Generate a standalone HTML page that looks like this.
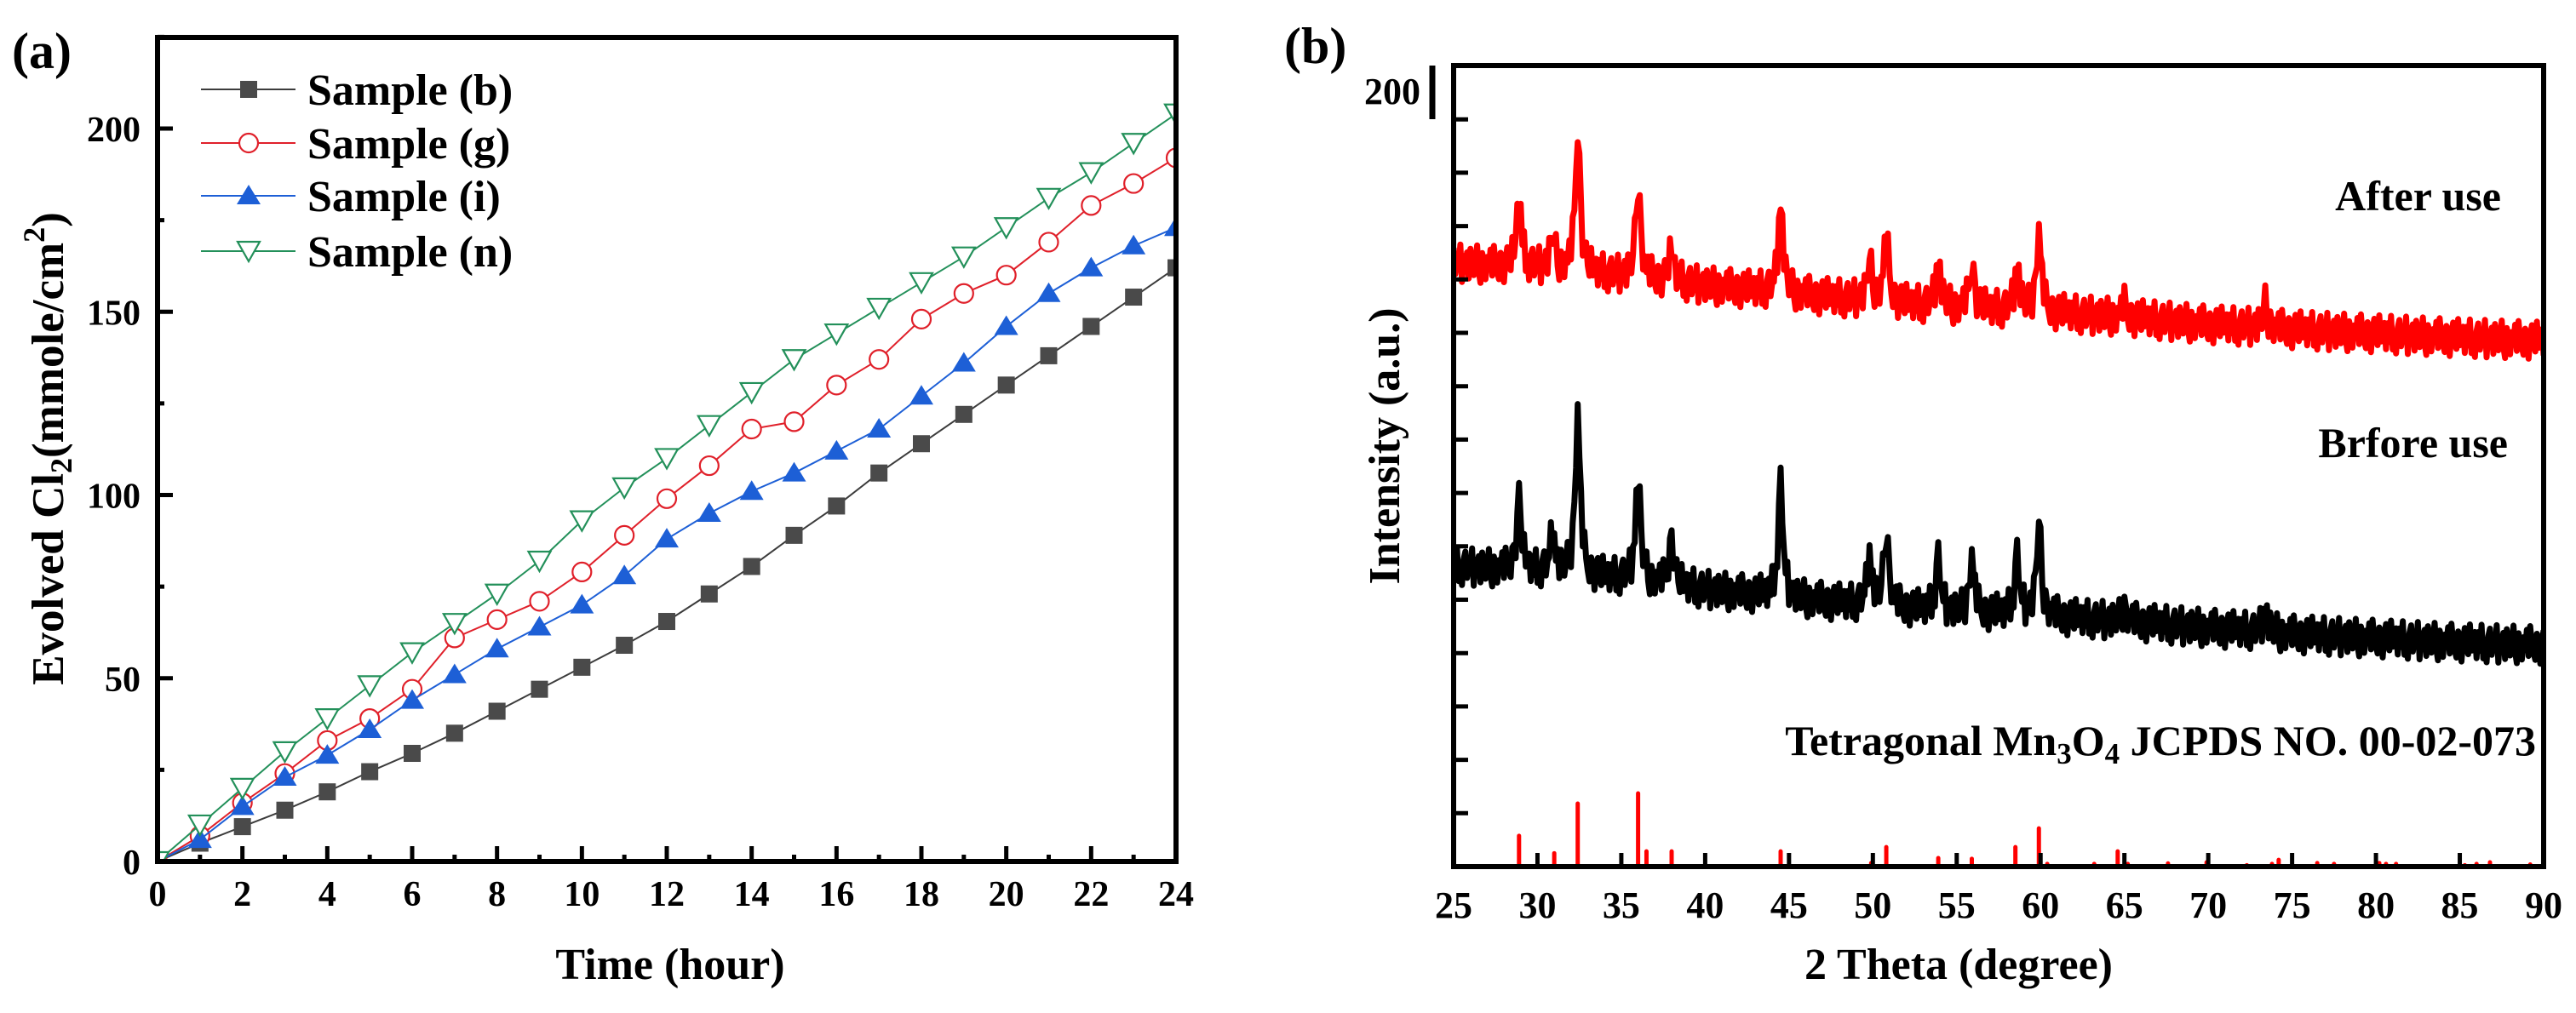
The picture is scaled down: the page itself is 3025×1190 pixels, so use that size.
<!DOCTYPE html>
<html><head><meta charset="utf-8"><style>
html,body{margin:0;padding:0;background:#fff;}
svg{display:block;}
text{font-family:"Liberation Serif",serif;font-weight:bold;fill:#000;}
</style></head><body>
<svg id="fig" xmlns="http://www.w3.org/2000/svg" width="3025" height="1190" viewBox="0 0 3025 1190">
<rect x="0" y="0" width="3025" height="1190" fill="#fff"/>
<defs>
<clipPath id="clipA"><rect x="185" y="44" width="1196" height="968"/></clipPath>
<clipPath id="clipB"><rect x="1707" y="77" width="1280" height="941"/></clipPath>
</defs>
<g id="panelA"></g>
<g id="panelB"></g>
</svg>
<script>
// ---------- Panel (a) data ----------
const hours = [0,1,2,3,4,5,6,7,8,9,10,11,12,13,14,15,16,17,18,19,20,21,22,23,24];
const sampleB = [0,5,9.5,14,19,24.5,29.5,35,41,47,53,59,65.5,73,80.5,89,97,106,114,122,130,138,146,154,162];
const sampleG = [0,7,16,24,33,39,47,61,66,71,79,89,99,108,118,120,130,137,148,155,160,169,179,185,192];
const sampleI = [0,6,15,23,29,36,44,51,58,64,70,78,88,95,101,106,112,118,127,136,146,155,162,168,173];
const sampleN = [0,10,20,30,39,48,57,65,73,82,93,102,110,119,128,137,144,151,158,165,173,181,188,196,204];
const xTicksA = [0,2,4,6,8,10,12,14,16,18,20,22,24];
const yTicksA = [0,50,100,150,200];

// ---------- Panel (b) data ----------
const baseAngles = [25,30,35,40,45,50,55,60,65,70,75,80,85,90];
const beforeBaseline = [112.5,110.3,107.7,103.6,100.4,97.5,95.0,93.7,91.8,89.3,87.0,85.4,83.8,82.9];
const afterBaseline = [226,224,221,217.5,214.5,211.5,209,207.5,205.5,203,201,199.5,198,197];
const peakAngles = [28.9,30.9,32.4,36.0,38.0,44.5,49.8,50.8,53.9,55.9,58.6,59.9,65.0,73.4];
const beforePeaks = [27,15,61,40,17.5,43,19,29,20,21,22,35,5,8];
const afterPeaks = [26,13,54,36,12,34,15,25,17,17,17,30,5,9];
const noisePattern = [3,-2,5,-4,1,-5,2,4,-3,0,-1,5,-5,2,-2,3,-4,4,1,-3,0,5,-2,-5,3,1,-4,2,-1,4,-3,5,0,-2,-4,3,2,-5,1,4,-1,-3,5,-2,0,3,-4];
const stickAngles = [28.9,31.0,32.4,36.0,36.5,38.0,44.5,49.9,50.8,53.9,55.9,58.5,59.9,60.4,63.2,64.6,65.2,67.6,69.9,72.3,73.8,74.2,76.5,77.5,80.2,80.6,81.2,85.3,86.0,86.8,89.2];
const stickHeights = [11.5,5,23.6,27.4,5.7,5.7,5.7,1.3,7.3,3.2,2.9,7.3,14.3,1,1,5.7,1,1.2,1.6,0.5,1,2.5,1.3,1,1.3,1,1,0.5,1,1.6,0.8];
const xTicksB = [25,30,35,40,45,50,55,60,65,70,75,80,85,90];

const NS = 'http://www.w3.org/2000/svg';
function mk(tag, attrs, parent){ const e=document.createElementNS(NS,tag); for(const k in attrs) e.setAttribute(k,attrs[k]); if(parent) parent.appendChild(e); return e; }

// ===== Panel A =====
const A = document.getElementById('panelA');
const ax = v => 185 + v*(1381-185)/24;
const ay = v => 1012 - v*(1012-151)/200;

const series = [
  {name:'sample-b', label:'Sample (b)', data:sampleB, color:'#3c3c3c', marker:'square'},
  {name:'sample-g', label:'Sample (g)', data:sampleG, color:'#e0202a', marker:'circle'},
  {name:'sample-i', label:'Sample (i)', data:sampleI, color:'#1d5fd6', marker:'tri'},
  {name:'sample-n', label:'Sample (n)', data:sampleN, color:'#23905a', marker:'dtri'}
];
function drawMarker(g, type, x, y, color){
  let m;
  if(type==='square') m = mk('rect',{x:x-10,y:y-10,width:20,height:20,fill:'#4a4a4a'},g);
  else if(type==='circle') m = mk('circle',{cx:x,cy:y,r:11,fill:'#fff',stroke:color,'stroke-width':2.2},g);
  else if(type==='tri') m = mk('path',{d:`M${x},${y-13} L${x+14},${y+10} L${x-14},${y+10} Z`,fill:color},g);
  else m = mk('path',{d:`M${x-13},${y-11} L${x+13},${y-11} L${x},${y+12} Z`,fill:'#fff',stroke:color,'stroke-width':2.2},g);
  return m;
}
const plotA = mk('g',{'clip-path':'url(#clipA)'},A);
series.forEach(s=>{
  const g = mk('g',{},plotA);
  
  
  const pts = s.data.map((v,i)=>ax(hours[i])+','+ay(v)).join(' ');
  const pl = mk('polyline',{points:pts,fill:'none',stroke:s.color,'stroke-width':2},g);
  
  
  s.data.forEach((v,i)=>{
    const m = drawMarker(g, s.marker, ax(hours[i]), ay(v), s.color);
    
    
  });
});
const frameA = mk('rect',{x:185,y:44,width:1196,height:968,fill:'none',stroke:'#000','stroke-width':6},A);


for(let h=0;h<=24;h++){
  const len = (h%2===0)?18:8;
  if(h>0 && h<24) mk('line',{x1:ax(h),y1:1012,x2:ax(h),y2:1012-len,stroke:'#000','stroke-width':5},A);
}
xTicksA.forEach(t=>{
  const tx = mk('text',{x:ax(t),y:1064,'font-size':42,'text-anchor':'middle'},A);
  tx.textContent = t;
  
  
});
for(let v=25; v<=225; v+=25){
  const len = (v%50===0)?18:8;
  mk('line',{x1:185,y1:ay(v),x2:185+len,y2:ay(v),stroke:'#000','stroke-width':5},A);
}
yTicksA.forEach(t=>{
  const ty = mk('text',{x:165,y:ay(t)+15,'font-size':42,'text-anchor':'end'},A);
  ty.textContent = t;
  
  
});
const legend = mk('g',{},A);


const legY = [105,168,230,295];
series.forEach((s,i)=>{
  const e = mk('g',{},legend);
  
  
  mk('line',{x1:236,y1:legY[i],x2:347,y2:legY[i],stroke:s.color,'stroke-width':2},e);
  drawMarker(e, s.marker, 292, legY[i], s.color);
  const t = mk('text',{x:361,y:legY[i]+18,'font-size':52},e);
  t.textContent = s.label;
});
</script>
<script>
(function(){
  const A = document.getElementById('panelA');
  const NS='http://www.w3.org/2000/svg';
  const lab = document.createElementNS(NS,'text');
  lab.setAttribute('x',14); lab.setAttribute('y',80); lab.setAttribute('font-size',60);
  lab.textContent='(a)';
  
  
  A.appendChild(lab);
  const xt = document.createElementNS(NS,'text');
  xt.setAttribute('x',787); xt.setAttribute('y',1150); xt.setAttribute('font-size',52); xt.setAttribute('text-anchor','middle');
  xt.textContent='Time (hour)';
  
  
  A.appendChild(xt);
  const yt = document.createElementNS(NS,'text');
  yt.setAttribute('transform','translate(74,527) rotate(-90)');
  yt.setAttribute('font-size',53); yt.setAttribute('text-anchor','middle');
  yt.innerHTML='Evolved Cl<tspan font-size="36" dy="10">2</tspan><tspan dy="-10">(mmole/cm</tspan><tspan font-size="36" dy="-22">2</tspan><tspan dy="22">)</tspan>';
  
  
  A.appendChild(yt);
})();

// ===== Panel B =====
const B = document.getElementById('panelB');
const bx = v => 1707 + (v-25)*(2987-1707)/65;
const by = v => 1018 - v*3.137;
function interpBase(arr, a){
  for(let i=0;i<baseAngles.length-1;i++){
    if(a<=baseAngles[i+1]){ const t=(a-baseAngles[i])/(baseAngles[i+1]-baseAngles[i]); return arr[i]+t*(arr[i+1]-arr[i]); }
  }
  return arr[arr.length-1];
}
function pattern(baseArr, peaks, shift){
  const pts=[];
  let k=0;
  for(let a=25; a<=90.001; a+=0.1, k++){
    let v = interpBase(baseArr,a);
    for(let j=0;j<peakAngles.length;j++){ const d=(a-peakAngles[j])/0.17; v += peaks[j]/(1+d*d); }
    v += 1.4*noisePattern[(k+shift)%noisePattern.length];
    pts.push(bx(a).toFixed(1)+','+by(v).toFixed(1));
  }
  return pts.join(' ');
}
const plotB = mk('g',{'clip-path':'url(#clipB)'},B);
const after = mk('polyline',{points:pattern(afterBaseline, afterPeaks, 7),fill:'none',stroke:'#ff0000','stroke-width':7,'stroke-linejoin':'round'},plotB);


const before = mk('polyline',{points:pattern(beforeBaseline, beforePeaks, 0),fill:'none',stroke:'#000','stroke-width':7,'stroke-linejoin':'round'},plotB);


stickAngles.forEach((a,i)=>{
  const s = mk('line',{x1:bx(a),y1:1018,x2:bx(a),y2:by(stickHeights[i]),stroke:'#ff0000','stroke-width':5,'stroke-linecap':'round'},plotB);
  
  
});
const frameB = mk('rect',{x:1707,y:77,width:1280,height:941,fill:'none',stroke:'#000','stroke-width':6},B);


xTicksB.forEach(t=>{
  if(t>25 && t<90) mk('line',{x1:bx(t),y1:1018,x2:bx(t),y2:1002,stroke:'#000','stroke-width':5},B);
  const tx = mk('text',{x:bx(t),y:1078,'font-size':44,'text-anchor':'middle'},B);
  tx.textContent = t;
  
  
});
for(let k=1;k<=14;k++){
  mk('line',{x1:1707,y1:1018-k*62.7,x2:1724,y2:1018-k*62.7,stroke:'#000','stroke-width':5},B);
}
mk('line',{x1:1682,y1:77,x2:1682,y2:140,stroke:'#000','stroke-width':7},B);
</script>
<script>
(function(){
  const B=document.getElementById('panelB'); const NS='http://www.w3.org/2000/svg';
  function t(x,y,fs,anchor,html,name,tr){ const e=document.createElementNS(NS,'text'); e.setAttribute('x',x); e.setAttribute('y',y); e.setAttribute('font-size',fs); if(anchor) e.setAttribute('text-anchor',anchor); if(tr) e.setAttribute('transform',tr); e.innerHTML=html; B.appendChild(e); return e; }
  let e;
  e=t(1508,74,60,null,'(b)');  
  e=t(1668,122,44,'end','200');  
  e=t(2937,247,50,'end','After use');  
  e=t(2945,537,50,'end','Brfore use');  
  e=t(2978,887,50,'end','Tetragonal Mn<tspan font-size="35" dy="10">3</tspan><tspan dy="-10">O</tspan><tspan font-size="35" dy="10">4</tspan><tspan dy="-10"> JCPDS NO. 00-02-073</tspan>');  
  e=t(2300,1150,52,'middle','2 Theta (degree)');  
  e=t(0,0,52,'middle','Intensity (a.u.)',null,'translate(1643,524) rotate(-90)');  
})();
</script>
</body></html>
